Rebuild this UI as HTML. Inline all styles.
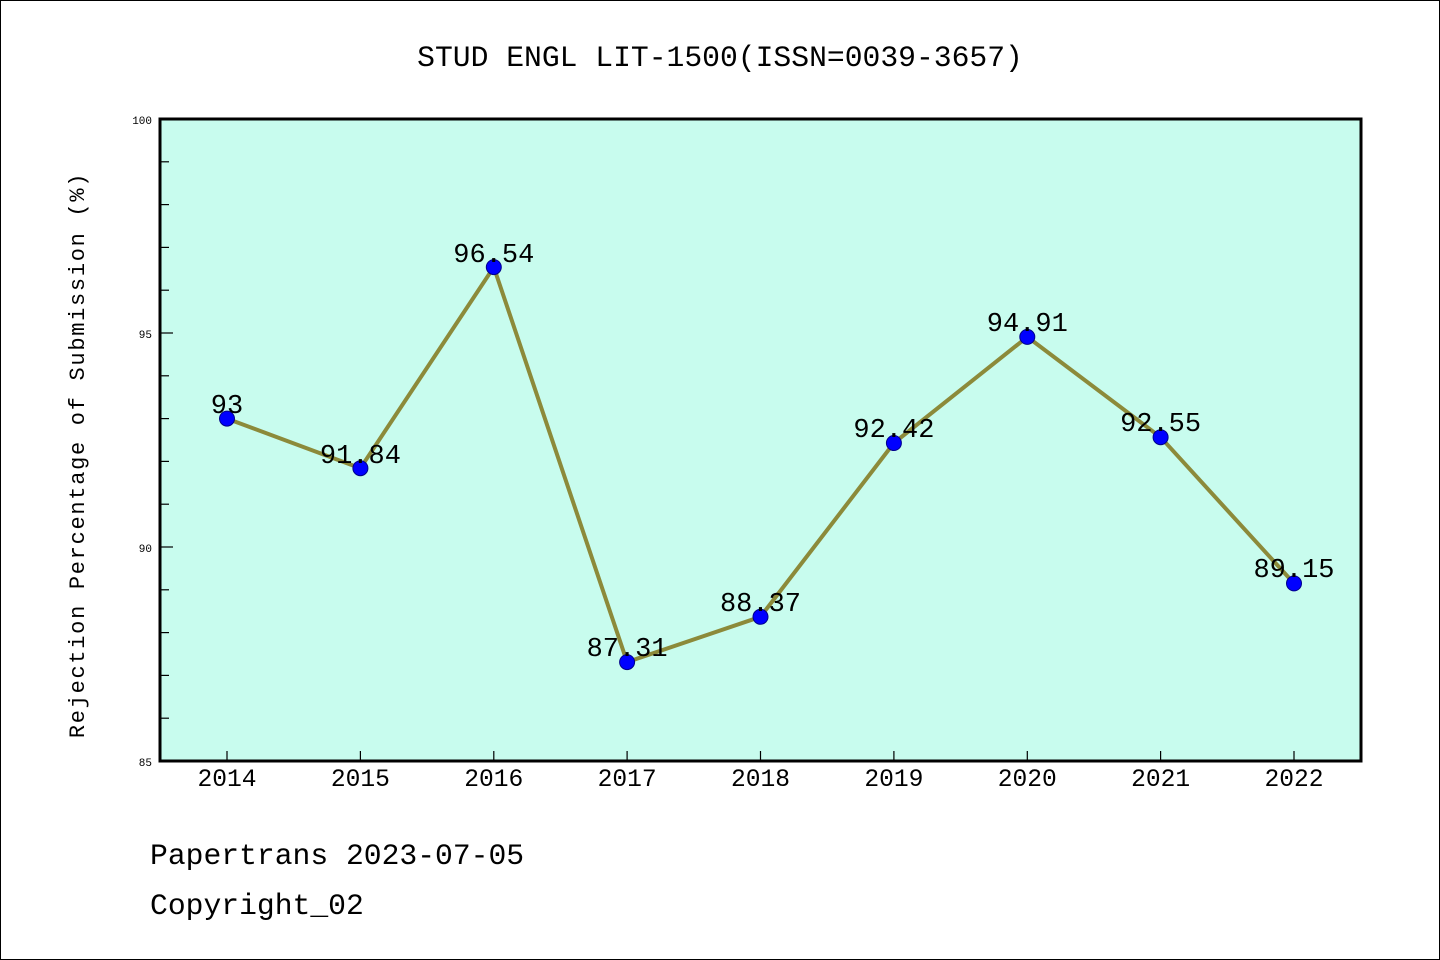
<!DOCTYPE html>
<html><head><meta charset="utf-8"><style>
html,body{margin:0;padding:0;background:#fff}
svg{display:block}
text{font-family:"Liberation Mono",monospace}
</style></head><body>
<svg width="1440" height="960" xmlns="http://www.w3.org/2000/svg">
<rect x="0.5" y="0.5" width="1439" height="959" fill="#fff" stroke="#000" stroke-width="1"/>
<text x="720" y="66" font-size="29.7" text-anchor="middle">STUD ENGL LIT-1500(ISSN=0039-3657)</text>
<rect x="160" y="119" width="1201" height="642" fill="#c8fcee"/>
<g stroke="#000" stroke-width="1.2">
<line x1="160" y1="161.8" x2="169" y2="161.8"/>
<line x1="160" y1="204.6" x2="169" y2="204.6"/>
<line x1="160" y1="247.4" x2="169" y2="247.4"/>
<line x1="160" y1="290.2" x2="169" y2="290.2"/>
<line x1="160" y1="333" x2="173" y2="333"/>
<line x1="160" y1="375.8" x2="169" y2="375.8"/>
<line x1="160" y1="418.6" x2="169" y2="418.6"/>
<line x1="160" y1="461.4" x2="169" y2="461.4"/>
<line x1="160" y1="504.2" x2="169" y2="504.2"/>
<line x1="160" y1="547" x2="173" y2="547"/>
<line x1="160" y1="589.8" x2="169" y2="589.8"/>
<line x1="160" y1="632.6" x2="169" y2="632.6"/>
<line x1="160" y1="675.4" x2="169" y2="675.4"/>
<line x1="160" y1="718.2" x2="169" y2="718.2"/>
<line x1="227" y1="761" x2="227" y2="751"/>
<line x1="360.4" y1="761" x2="360.4" y2="751"/>
<line x1="493.8" y1="761" x2="493.8" y2="751"/>
<line x1="627.1" y1="761" x2="627.1" y2="751"/>
<line x1="760.5" y1="761" x2="760.5" y2="751"/>
<line x1="893.9" y1="761" x2="893.9" y2="751"/>
<line x1="1027.3" y1="761" x2="1027.3" y2="751"/>
<line x1="1160.6" y1="761" x2="1160.6" y2="751"/>
<line x1="1294" y1="761" x2="1294" y2="751"/>
</g>
<rect x="160" y="119" width="1201" height="642" fill="none" stroke="#000" stroke-width="3"/>
<g font-size="11" text-anchor="end">
<text x="152" y="124">100</text><text x="152" y="338">95</text><text x="152" y="552">90</text><text x="152" y="766">85</text>
</g>
<g font-size="24.6" text-anchor="middle">
<text x="227" y="786">2014</text><text x="360.4" y="786">2015</text><text x="493.8" y="786">2016</text>
<text x="627.1" y="786">2017</text><text x="760.5" y="786">2018</text><text x="893.9" y="786">2019</text>
<text x="1027.3" y="786">2020</text><text x="1160.6" y="786">2021</text><text x="1294" y="786">2022</text>
</g>
<text transform="translate(84,455) rotate(-90)" font-size="22" text-anchor="middle" letter-spacing="1.7">Rejection Percentage of Submission (%)</text>
<polyline fill="none" stroke="#8c8a3a" stroke-width="4" stroke-linejoin="round" points="227,418.6 360.4,468.2 493.8,267.1 627.1,662.1 760.5,616.8 893.9,443 1027.3,336.9 1160.6,437.2 1294,583.4"/>
<g fill="#0000ff" stroke="#00008b" stroke-width="1">
<circle cx="227" cy="418.6" r="7.5"/><circle cx="360.4" cy="468.2" r="7.5"/><circle cx="493.8" cy="267.1" r="7.5"/>
<circle cx="627.1" cy="662.1" r="7.5"/><circle cx="760.5" cy="616.8" r="7.5"/><circle cx="893.9" cy="443" r="7.5"/>
<circle cx="1027.3" cy="336.9" r="7.5"/><circle cx="1160.6" cy="437.2" r="7.5"/><circle cx="1294" cy="583.4" r="7.5"/>
</g>
<g font-size="27" text-anchor="middle">
<text x="227" y="413">93</text><text x="360.4" y="463">91.84</text><text x="493.8" y="262">96.54</text>
<text x="627.1" y="656">87.31</text><text x="760.5" y="611">88.37</text><text x="893.9" y="437">92.42</text>
<text x="1027.3" y="331">94.91</text><text x="1160.6" y="431">92.55</text><text x="1294" y="577">89.15</text>
</g>
<g font-size="29.7">
<text x="150" y="864">Papertrans 2023-07-05</text>
<text x="150" y="914">Copyright_02</text>
</g>
</svg>
</body></html>
